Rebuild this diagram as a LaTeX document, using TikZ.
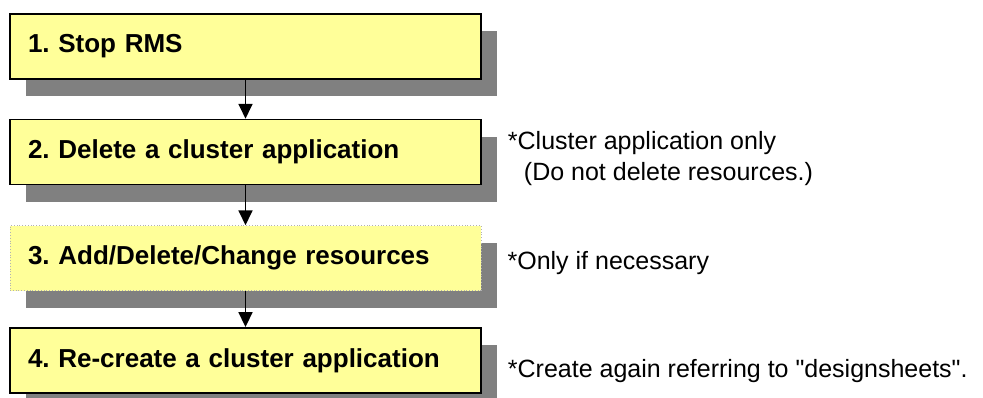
\documentclass[tikz,border=0pt]{standalone}
\usepackage{fontspec}
\setmainfont{Liberation Sans}
\usepackage{xcolor}
\usetikzlibrary{arrows.meta,positioning,shadows}

\definecolor{boxyellow}{RGB}{255,255,153}
\definecolor{shadowgray}{RGB}{128,128,128}
\frenchspacing

\begin{document}
\begin{tikzpicture}[
  stepbox/.style={draw, line width=1.5pt, rectangle, fill=boxyellow, minimum width=471pt, minimum height=65pt, text width=435pt, inner xsep=18pt, align=left, font=\fontsize{26}{31}\selectfont\bfseries, drop shadow={shadow xshift=16pt, shadow yshift=-17pt, fill=shadowgray, opacity=1}},
  optbox/.style={stepbox, draw=gray!60, line width=0.8pt, dotted},
  note/.style={font=\fontsize{25}{31}\selectfont, align=left, inner sep=0pt},
  arr/.style={-{Triangle[length=15pt, width=14pt]}, line width=1.8pt}
]

\useasboundingbox (0,0) rectangle (983pt,-397pt);

\node[stepbox] (b1) at (245.5pt,-46.5pt) {1. Stop RMS};

\node[stepbox, below=39pt of b1] (b2) {2. Delete a cluster application};

\node[optbox, below=40pt of b2] (b3) {3. Add/Delete/Change resources};

\node[stepbox, below=36pt of b3] (b4) {4. Re-create a cluster application};

% notes on the right
\node[note, right=26pt of b2, yshift=-7pt] (n2) {*Cluster application only\\\hspace*{16pt}(Do not delete resources.)};
\node[note, right=26pt of b3, yshift=-5pt] (n3) {*Only if necessary};
\node[note, right=26pt of b4, yshift=-11pt] (n4) {*Create again referring to \textquotedbl designsheets\textquotedbl.};

\draw[arr] (b1) -- (b2);
\draw[arr] (b2) -- (b3);
\draw[arr] (b3) -- (b4);

\end{tikzpicture}
\end{document}
